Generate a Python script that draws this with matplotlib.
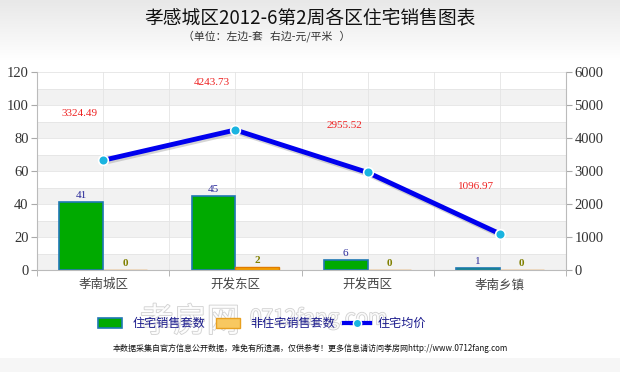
import numpy as np
import matplotlib
matplotlib.use("Agg")
import matplotlib.pyplot as plt
import matplotlib.patheffects as pe
from matplotlib.patches import Rectangle
from matplotlib.lines import Line2D

plt.rcParams['font.family'] = ['Noto Sans CJK SC', 'DejaVu Sans']

categories = ['孝南城区', '开发东区', '开发西区', '孝南乡镇']
residential = [41, 45, 6, 1]
non_residential = [0, 2, 0, 0]
avg_price = [3324.49, 4243.73, 2955.52, 1096.97]
left_ticks = [0, 20, 40, 60, 80, 100, 120]
right_ticks = [0, 1000, 2000, 3000, 4000, 5000, 6000]
title = '孝感城区2012-6第2周各区住宅销售图表'
subtitle = '（单位：左边-套   右边-元/平米   ）'
legend_labels = ['住宅销售套数', '非住宅销售套数', '住宅均价']
footer = '本数据采集自官方信息公开数据，难免有所遗漏，仅供参考！更多信息请访问孝房网http://www.0712fang.com'

W, H = 620, 372
fig = plt.figure(figsize=(W / 100, H / 100), dpi=100)

# background gradient
bg = fig.add_axes([0, 0, 1, 1], zorder=-10)
grad = np.ones((H, 1))
for i in range(H):
    if i < 60:
        grad[i] = 0.91 + 0.09 * (i / 60)
    elif i >= 358:
        grad[i] = 0.965
    else:
        grad[i] = 1.0
bg.imshow(np.dstack([grad, grad, grad]), aspect='auto', extent=[0, 1, 0, 1])
bg.axis('off')

def fx(px):
    return px / W

def fy(py):
    return 1 - py / H

ax = fig.add_axes([fx(37), fy(270), fx(566) - fx(37), fy(72) - fy(270)])
ax.set_facecolor('none')
ax.set_xlim(-0.5, 3.5)
ax.set_ylim(0, 120)

# stripes
for y0 in range(0, 120, 20):
    ax.axhspan(y0, y0 + 10, color='#f2f2f2', zorder=0, lw=0)
for y0 in range(10, 121, 10):
    ax.axhline(y0, color='#e4e4e4', lw=0.6, zorder=0.5)
for xv in np.arange(-0.5, 3.6, 0.5):
    ax.axvline(xv, color='#e4e4e4', lw=0.6, zorder=0.5)

x = np.arange(len(categories))
bw = 0.33
ax.bar(x - bw, residential, width=bw, align='edge', color='#00aa00',
       edgecolor='#1f78b4', lw=1.2, zorder=2)
ax.bar(x, non_residential, width=bw, align='edge', color='#f5a300',
       edgecolor='#e07b00', lw=1.0, zorder=2)

for xi, v in zip(x, residential):
    ax.text(xi - bw / 2, v + 1.2, str(v), ha='center', va='bottom',
            fontsize=8, color='#2a2a9a', family='Liberation Serif', zorder=5)
for xi, v in zip(x, non_residential):
    ax.text(xi + bw / 2, v + 1.2, str(v), ha='center', va='bottom',
            fontsize=8, color='#808000', family='Liberation Serif',
            fontweight='bold', zorder=5)

ax.set_xticks(x)
ax.set_xticklabels(categories, fontsize=9, color='#444444')
ax.set_xticks(np.arange(-0.5, 3.6, 1), minor=True)
ax.tick_params(axis='x', which='major', length=0, pad=6)
ax.tick_params(axis='x', which='minor', length=4, color='#aaaaaa')
ax.set_yticks(left_ticks)
ax.set_yticklabels([str(t) for t in left_ticks], family='Liberation Serif',
                   fontsize=10.5, color='#333333')
ax.tick_params(axis='y', length=4, color='#aaaaaa', pad=2)
for s in ['top', 'right']:
    ax.spines[s].set_visible(False)
ax.spines['left'].set_color('#bbbbbb')
ax.spines['bottom'].set_color('#bbbbbb')

ax2 = ax.twinx()
ax2.set_ylim(0, 6000)
ax2.set_yticks(right_ticks)
ax2.set_yticklabels([str(t) for t in right_ticks], family='Liberation Serif',
                    fontsize=10.5, color='#333333')
ax2.tick_params(axis='y', length=4, color='#aaaaaa', pad=2)
for s in ['top', 'left', 'bottom']:
    ax2.spines[s].set_visible(False)
ax2.spines['right'].set_color('#bbbbbb')

ax2.plot(x, avg_price, color='#0000ee', lw=3.5, zorder=3, solid_capstyle='round',
         path_effects=[pe.SimpleLineShadow(offset=(1, -1.5), shadow_color='#888888', alpha=0.35),
                       pe.Normal()])
ax2.plot(x, avg_price, 'o', color='#1ab4e0', markersize=7, markeredgecolor='white',
         markeredgewidth=1.2, zorder=4)
for xi, v in zip(x, avg_price):
    ax2.annotate('%.2f' % v, (xi, v), xytext=(-17, 34), textcoords='offset points',
                 ha='center', va='center', fontsize=8, color='#ee2222',
                 family='Liberation Serif')

# titles
fig.text(0.5, fy(18), title, ha='center', va='center', fontsize=13.5, color='#111111')
fig.text(0.43, fy(36), subtitle, ha='center', va='center', fontsize=7.8, color='#333333')

# watermark
fig.text(fx(140), fy(322), '孝房网', ha='left', va='center', fontsize=24,
         color='white', alpha=0.9, zorder=0,
         path_effects=[pe.withStroke(linewidth=1.2, foreground='#cccccc')])
fig.text(fx(250), fy(318), '0712fang.com', ha='left', va='center', fontsize=15,
         color='white', alpha=0.9, zorder=0,
         path_effects=[pe.withStroke(linewidth=1.2, foreground='#cccccc')])

# legend
ly = fy(323)
fig.patches.append(Rectangle((fx(98), fy(328)), fx(24), fy(318) - fy(328),
                             transform=fig.transFigure, facecolor='#00aa00',
                             edgecolor='#1f78b4', lw=1.2, zorder=5))
fig.text(fx(133), ly, legend_labels[0], ha='left', va='center', fontsize=8.7,
         color='#1a1a8c', zorder=6)
fig.patches.append(Rectangle((fx(216), fy(328)), fx(24), fy(318) - fy(328),
                             transform=fig.transFigure, facecolor='#f8c860',
                             edgecolor='#e8a020', lw=1.0, zorder=5))
fig.text(fx(250), ly, legend_labels[1], ha='left', va='center', fontsize=8.7,
         color='#1a1a8c', zorder=6)
fig.lines.append(Line2D([fx(344), fx(370)], [ly, ly], transform=fig.transFigure,
                        color='#0000ee', lw=3, zorder=5))
fig.lines.append(Line2D([fx(357)], [ly], transform=fig.transFigure, marker='o',
                        color='#1ab4e0', markersize=6, markeredgecolor='white', zorder=6))
fig.text(fx(378), ly, legend_labels[2], ha='left', va='center', fontsize=8.7,
         color='#1a1a8c', zorder=6)

fig.text(0.5, fy(348), footer, ha='center', va='center', fontsize=5.8, color='#111111')

fig.savefig('out.png', dpi=100)
